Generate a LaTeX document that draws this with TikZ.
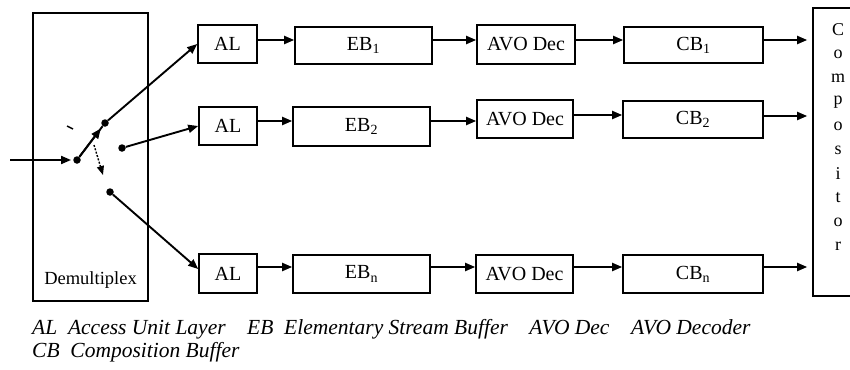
\documentclass[tikz,border=0pt]{standalone}
\usepackage{fontspec}
\setmainfont{Liberation Serif}
\usetikzlibrary{arrows.meta,calc}
\begin{document}
\begin{tikzpicture}[x=1pt,y=-1pt,
  box/.style={draw,line width=1.6pt,inner sep=0pt,font=\fontsize{20}{22}\selectfont},
  arr/.style={line width=1.9pt,-{Triangle[length=10pt,width=8pt]}},
  ln/.style={line width=1.9pt},
  dot/.style={circle,fill,inner sep=0pt,minimum size=7.5pt},
  lbl/.style={font=\fontsize{18.5}{22}\selectfont,inner sep=0pt},
  legend/.style={anchor=base west,inner sep=0pt,font=\fontsize{21.5}{24}\selectfont\itshape}]
\useasboundingbox (0,0) rectangle (850,369);
% boxes
\node[box,minimum width=115pt,minimum height=288pt] (demux) at (90.5,157) {};
\node[lbl,anchor=base] (demuxlbl) at (90.5,284) {Demultiplex};
\node[box,minimum width=59pt,minimum height=38pt] (AL1) at (227.5,44) {AL};
\node[box,minimum width=58pt,minimum height=38pt] (AL2) at (228,126) {AL};
\node[box,minimum width=58pt,minimum height=39pt] (AL3) at (228,273.5) {AL};
\node[box,minimum width=137pt,minimum height=37pt] (EB1) at (363.5,45.5) {EB\textsubscript{1}};
\node[box,minimum width=137pt,minimum height=39pt] (EB2) at (361.5,126.5) {EB\textsubscript{2}};
\node[box,minimum width=137pt,minimum height=38pt] (EB3) at (361.5,274) {EB\textsubscript{n}};
\node[box,minimum width=98pt,minimum height=39pt] (AVO1) at (526,44.5) {AVO Dec};
\node[box,minimum width=96pt,minimum height=38pt] (AVO2) at (525,119) {AVO Dec};
\node[box,minimum width=97pt,minimum height=38pt] (AVO3) at (524.5,274) {AVO Dec};
\node[box,minimum width=139pt,minimum height=36pt] (CB1) at (693.5,45) {CB\textsubscript{1}};
\node[box,minimum width=140pt,minimum height=37pt] (CB2) at (693,119.5) {CB\textsubscript{2}};
\node[box,minimum width=140pt,minimum height=38pt] (CB3) at (693,274) {CB\textsubscript{n}};
\node[box,minimum width=40pt,minimum height=288pt] (comp) at (833,152) {};
\foreach \ch [count=\i from 0] in {C,o,m,p,o,s,i,t,o,r}
  \node[lbl,font=\fontsize{18}{20}\selectfont] (c\i) at (838,{30+24*\i}) {\ch};
% switch
\coordinate (in) at (10,160);
\node[dot] (d1) at (77,160) {};
\node[dot] (d2) at (105,123) {};
\node[dot] (d3) at (122,148) {};
\node[dot] (d4) at (110,192) {};
\coordinate (tk1) at (67,126);
\coordinate (tk2) at (73,129);
\coordinate (ds) at (94,145);
\coordinate (de) at (103,175);
\draw[line width=1.4pt] (tk1) -- (tk2);
\draw[arr,shorten >=2pt] (in) -- (d1);
\draw[ln] (d1) -- (d2);
\draw[arr] (d1) -- ($(d1)!0.85!(d2)$);
\draw[line width=1.4pt,dash pattern=on 2pt off 1.5pt,-{Triangle[length=9pt,width=7pt]}] (ds) -- (de);
\draw[arr] (d2) -- (AL1.west);
\draw[arr] (d3) -- (AL2.west);
\draw[arr] (d4) -- (AL3.west |- 0,269);
% row 1
\draw[arr] (AL1.east |- 0,40) -- (EB1.west |- 0,40);
\draw[arr] (EB1.east |- 0,40) -- (AVO1.west |- 0,40);
\draw[arr] (AVO1.east |- 0,40) -- (CB1.west |- 0,40);
\draw[arr,shorten >=5pt] (CB1.east |- 0,40) -- (comp.west |- 0,40);
% row 2
\draw[arr] (AL2.east |- 0,121) -- (EB2.west |- 0,121);
\draw[arr] (EB2.east |- 0,121) -- (AVO2.west |- 0,121);
\draw[arr] (AVO2.east |- 0,115) -- (CB2.west |- 0,115);
\draw[arr,shorten >=5pt] (CB2.east |- 0,116) -- (comp.west |- 0,116);
% row 3
\draw[arr] (AL3.east |- 0,267) -- (EB3.west |- 0,267);
\draw[arr] (EB3.east |- 0,267) -- (AVO3.west |- 0,267);
\draw[arr] (AVO3.east |- 0,267) -- (CB3.west |- 0,267);
\draw[arr,shorten >=5pt] (CB3.east |- 0,267) -- (comp.west |- 0,267);
% legend
\node[legend] (leg1) at (32,334)
  {AL\enspace Access Unit Layer\quad EB\enspace Elementary Stream Buffer\quad AVO Dec\quad AVO Decoder};
\node[legend] (leg2) at (32,357)
  {CB\enspace Composition Buffer};
\end{tikzpicture}
\end{document}
